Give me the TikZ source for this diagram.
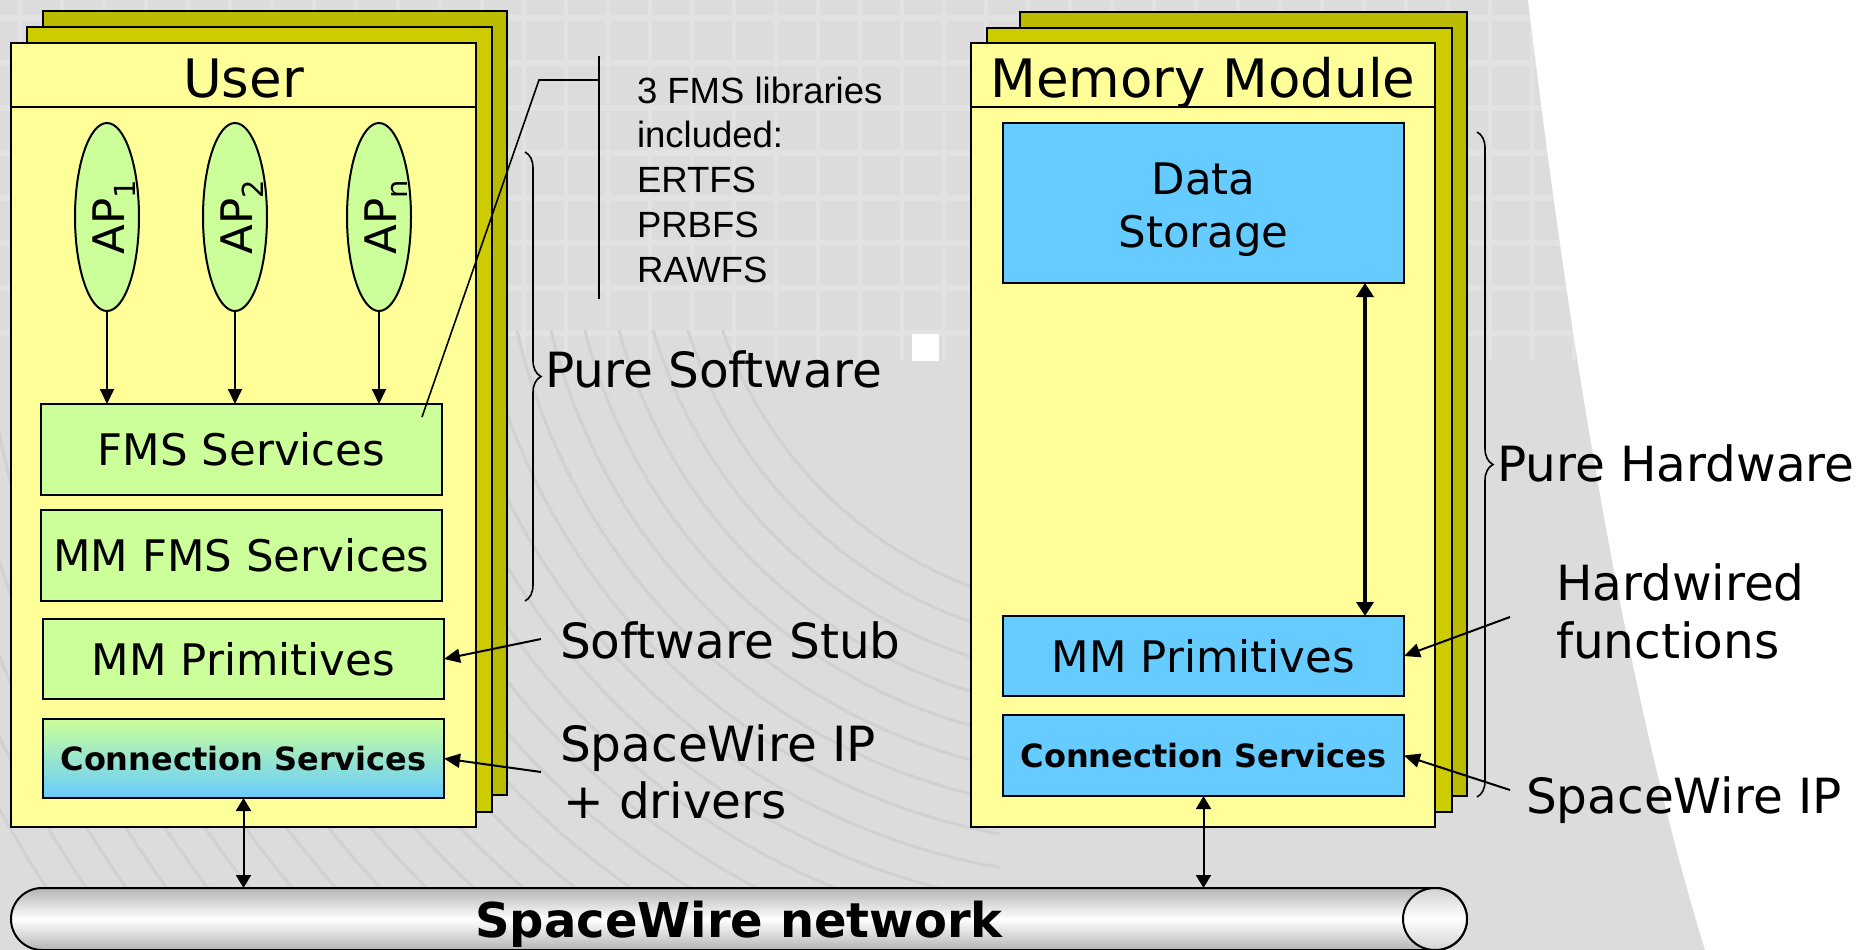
\documentclass[tikz,border=0pt]{standalone}
\usepackage{fontspec}
\setmainfont{DejaVu Sans}
\newfontfamily\calloutfont{Liberation Sans}
\usetikzlibrary{arrows.meta,decorations.pathreplacing,shapes.geometric,shapes.misc,calc}

\definecolor{bggrey}{HTML}{DCDCDC}
\definecolor{texarc}{HTML}{D1D1D1}
\definecolor{texgrid}{HTML}{E2E2E2}
\definecolor{paneyellow}{HTML}{FFFF99}
\definecolor{panemid}{HTML}{CCCC00}
\definecolor{paneback}{HTML}{BBBB00}
\definecolor{layergreen}{HTML}{CCFF99}
\definecolor{layerblue}{HTML}{66CCFF}
\definecolor{tubeedge}{HTML}{B4B4B4}

\newcommand\titlesize{\fontsize{53}{62}\selectfont}
\newcommand\boxsize{\fontsize{43.5}{53}\selectfont}
\newcommand\connsize{\fontsize{32}{38}\selectfont\bfseries}
\newcommand\notesize{\fontsize{48.5}{58}\selectfont}
\newcommand\libsize{\calloutfont\fontsize{36.5}{44.75}\selectfont}
\newcommand\apsub[1]{\raisebox{-11pt}{\fontsize{29}{29}\selectfont #1}}

\begin{document}
\begin{tikzpicture}[x=1pt,y=-1pt,
  every node/.style={inner sep=0pt,outer sep=0pt},
  pane/.style={draw=black,line width=2pt},
  layer/.style={rectangle,draw=black,line width=2pt,minimum width=401pt,font=\boxsize},
  apnode/.style={ellipse,draw=black,line width=2pt,fill=layergreen,minimum width=64pt,minimum height=188pt},
  flow/.style={line width=2pt,-{Triangle[length=15pt,width=14pt]}},
  link/.style={line width=2pt,{Triangle[length=13pt,width=15pt]}-{Triangle[length=13pt,width=15pt]}},
  pointer/.style={line width=2pt,-{Triangle[length=16pt,width=14pt]}},
  bracket/.style={decorate,decoration={brace,amplitude=16pt},line width=1.6pt},
  note/.style={font=\notesize,anchor=base west},
  libline/.style={font=\libsize,anchor=base west}
]
\useasboundingbox (0,0) rectangle (1856,950);

% backdrop: grey slide with faint grid and arcs, white sweep on the right
\fill[bggrey] (0,0) rectangle (1856,950);
\begin{scope}
  \clip (0,0) rectangle (1856,360);
  \foreach \gy in {18,63,...,360} \draw[texgrid,line width=6pt] (0,\gy) -- (1856,\gy);
  \foreach \gx in {20,62,...,1856} \draw[texgrid,line width=4pt] (\gx,0) -- (\gx,360);
\end{scope}
\begin{scope}
  \clip (0,330) rectangle (1000,950);
  \foreach \r in {420,453,...,1300} \draw[texarc,line width=3pt] (1120,194) circle[radius=\r pt];
\end{scope}
\fill[white] (1528,0) .. controls (1556,230) and (1610,640) .. (1705,950) -- (1856,950) -- (1856,0) -- cycle;

% user node stack
\draw[pane,fill=paneback] (43,11) rectangle (507,795);
\draw[pane,fill=panemid] (27,27) rectangle (492,812);
\draw[pane,fill=paneyellow] (11,43) rectangle (476,827);
\draw[line width=2pt] (11,107) -- (476,107);
\node[font=\titlesize,anchor=base] (usertitle) at (243.5,97) {User};

% memory module stack
\draw[pane,fill=paneback] (1020,12) rectangle (1467,796);
\draw[pane,fill=panemid] (987,28) rectangle (1452,812);
\draw[pane,fill=paneyellow] (971,43) rectangle (1435,827);
\draw[line width=2pt] (971,107) -- (1435,107);
\node[font=\titlesize,anchor=base] (mmtitle) at (1203,97) {Memory Module};

% application processes
\node[apnode] (ap1) at (107,217) {};
\node[apnode] (ap2) at (235,217) {};
\node[apnode] (apn) at (379,217) {};
\node[rotate=90,font=\boxsize] (ap1t) at ($(ap1)+(7,0)$) {AP\apsub{1}};
\node[rotate=90,font=\boxsize] (ap2t) at ($(ap2)+(7,0)$) {AP\apsub{2}};
\node[rotate=90,font=\boxsize] (apnt) at ($(apn)+(7,0)$) {AP\apsub{n}};

% user software layers
\node[layer,fill=layergreen,minimum height=91pt] (fms) at (241.5,449.5) {FMS Services};
\node[layer,fill=layergreen,minimum height=91pt] (mmfms) at (241.5,555.5) {MM FMS Services};
\node[layer,fill=layergreen,minimum height=80pt] (prim) at (243.5,659) {MM Primitives};
\node[layer,top color=layergreen,bottom color=layerblue,minimum height=79pt,font=\connsize] (conn) at (243.5,758.5) {Connection Services};

% memory module hardware blocks
\node[layer,fill=layerblue,minimum height=160pt] (store) at (1203.5,203) {};
\node[font=\boxsize,align=center] (storetext) at ($(store.center)+(0,7)$) {Data\\Storage};
\node[layer,fill=layerblue,minimum height=80pt] (prim2) at (1203.5,656) {MM Primitives};
\node[layer,fill=layerblue,minimum height=81pt,font=\connsize] (conn2) at (1203.5,755.5) {Connection Services};

\foreach \a in {ap1,ap2,apn} \draw[flow] (\a.south) -- (\a.south |- fms.north);
\draw[line width=4pt,{Triangle[length=14pt,width=17pt]}-{Triangle[length=14pt,width=17pt]}]
  ($(store.south east)+(-39,0)$) -- ($(prim2.north east)+(-39,0)$);

% SpaceWire bus
\node[rounded rectangle,draw=black,line width=2pt,minimum width=1456pt,minimum height=62pt,
  top color=tubeedge,bottom color=tubeedge,middle color=white,
  font=\fontsize{48}{56}\selectfont\bfseries,text depth=0pt] (bus) at (739,919) {SpaceWire network};
\draw[line width=2pt,top color=tubeedge!60,bottom color=tubeedge!60,middle color=white]
  ($(bus.east)+(-32,0)$) ellipse [x radius=32pt,y radius=31pt];
\draw[link] (conn.south) -- (conn.south |- bus.north);
\draw[link] (conn2.south) -- (conn2.south |- bus.north);

% callout for the FMS libraries
\coordinate (knee) at (539,80);
\coordinate (barmid) at (599,80);
\coordinate (bartop) at (599,56);
\coordinate (barbot) at (599,299);
\draw[line width=1.6pt] ($(fms.north east)+(-20,13)$) -- (knee) -- (barmid);
\draw[line width=1.6pt] (bartop) -- (barbot);
\foreach \t/\y in {3 FMS libraries/103,included:/147.75,ERTFS/192.5,PRBFS/237.25,RAWFS/282}
  \node[libline] at (637,\y) {\t};

\fill[white] (912,334) rectangle (939,361);

% braces and side notes
\draw[bracket] (525,152) -- (525,601);
\draw[bracket] (1477,132) -- (1477,797);
\node[note] (pswlabel) at (545,387) {Pure Software};
\node[note] (phwlabel) at (1497,481) {Pure Hardware};
\node[note] (stublabel) at (560,658) {Software Stub};
\node[note] (ipl1) at (560,761) {SpaceWire IP};
\node[note] (ipl2) at (563,818) {+ drivers};
\node[note] (hw1) at (1556,600) {Hardwired};
\node[note] (hw2) at (1556,658) {functions};
\node[note] (ipr) at (1526,813) {SpaceWire IP};

\coordinate (stubtail) at (541,639);
\coordinate (ipltail) at (541,772);
\coordinate (hwtail) at (1510,617);
\coordinate (iprtail) at (1510,790);
\draw[pointer] (stubtail) -- (prim.east);
\draw[pointer] (ipltail) -- (conn.east);
\draw[pointer] (hwtail) -- (prim2.east);
\draw[pointer] (iprtail) -- (conn2.east);
\end{tikzpicture}
\end{document}
